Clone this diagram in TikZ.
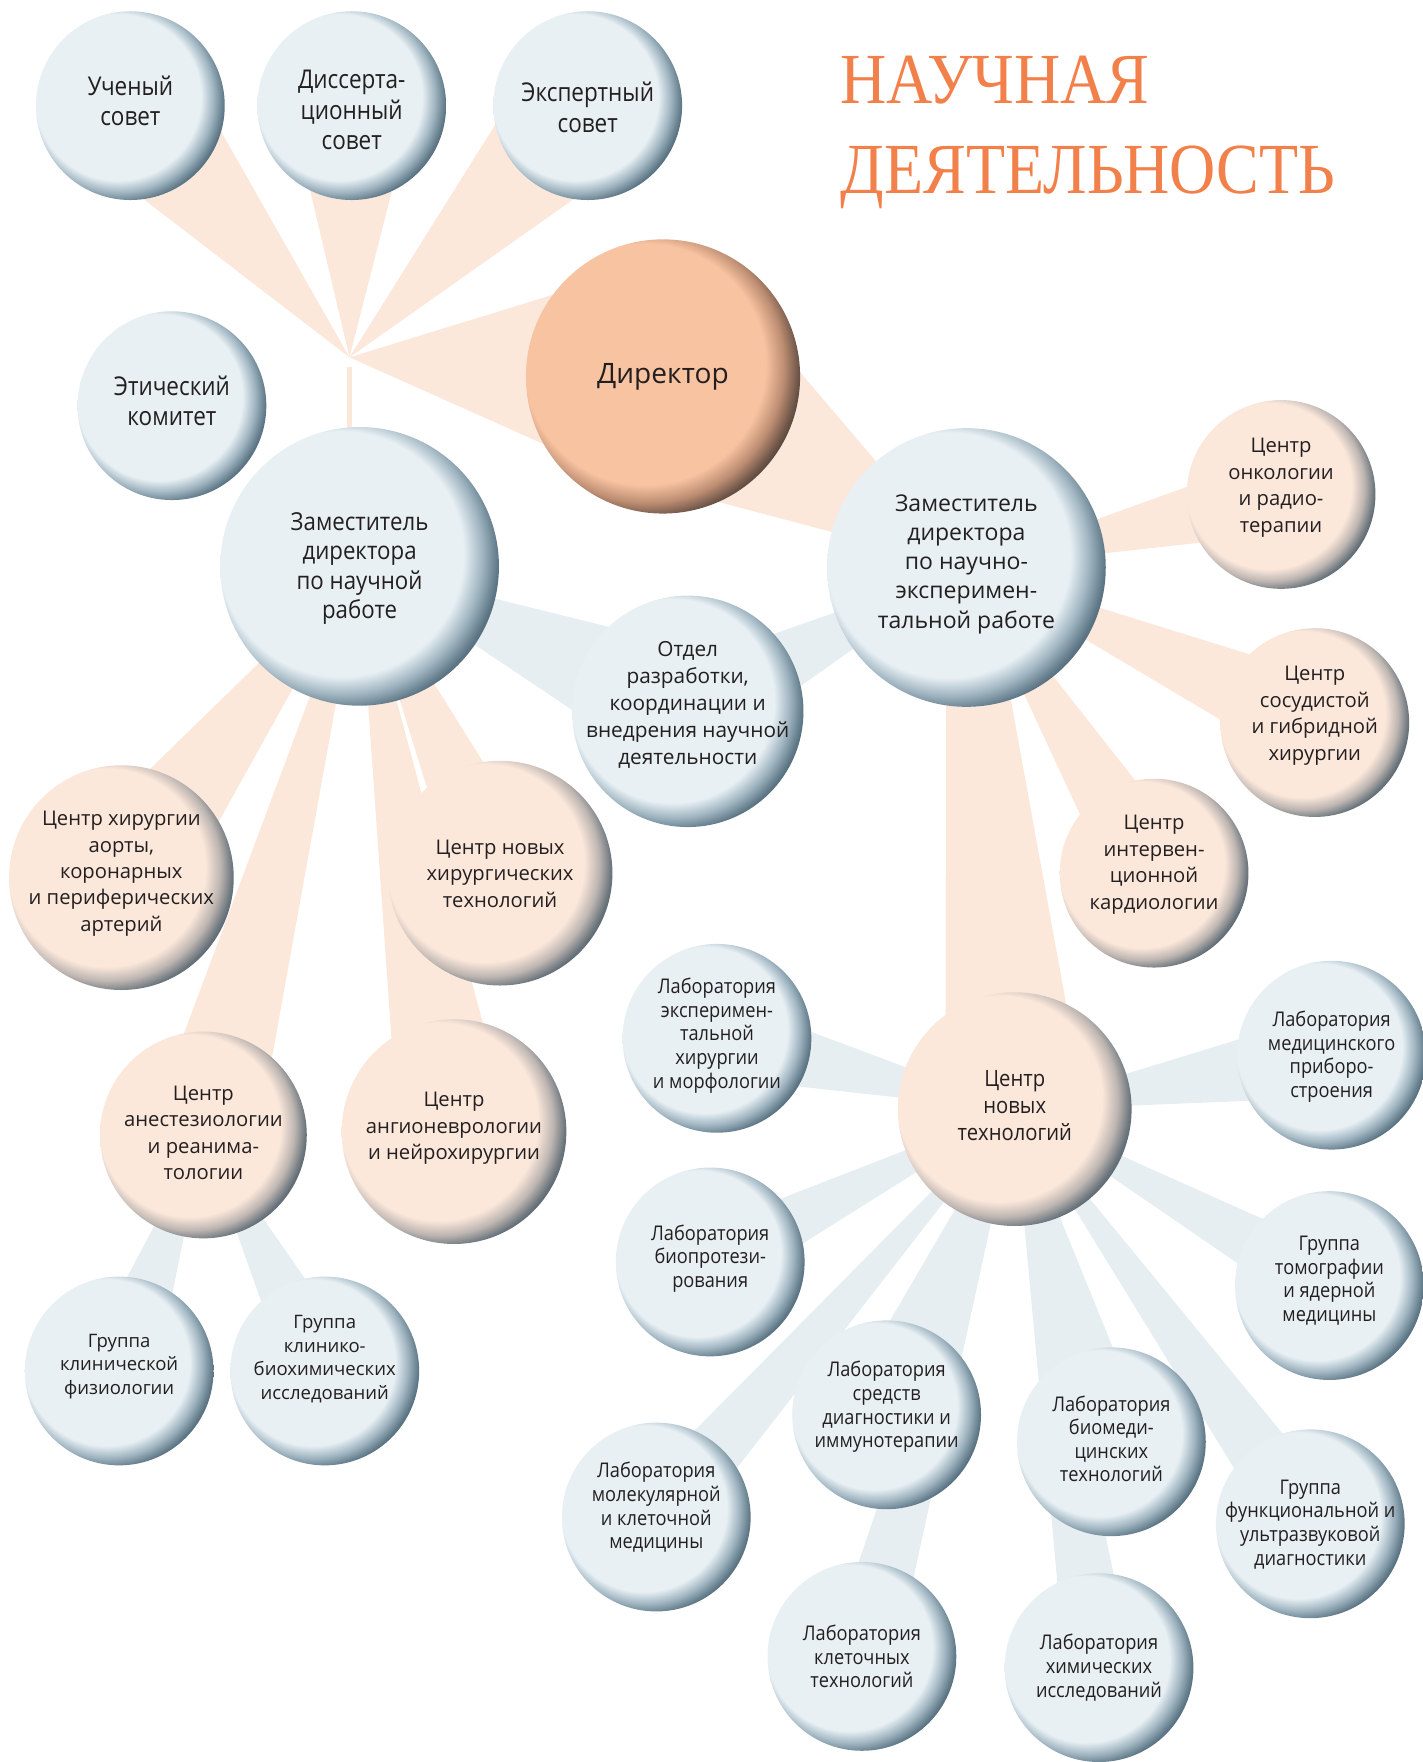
\documentclass[tikz,border=0pt]{standalone}
\usepackage{fontspec}
\setmainfont{Open Sans}
\newfontfamily\condA[FakeStretch=0.87]{Open Sans}
\newfontfamily\condB[FakeStretch=0.9]{Open Sans}
\newfontfamily\titlef[FakeStretch=0.89]{Liberation Serif}
\usetikzlibrary{calc}

\definecolor{txt}{RGB}{35,31,32}
\definecolor{bandP}{RGB}{252,232,219}
\definecolor{bandB}{RGB}{231,238,242}
\definecolor{bL}{RGB}{232,240,244}
\definecolor{bM}{RGB}{160,181,193}
\definecolor{bD}{RGB}{95,120,135}
\definecolor{bE}{RGB}{62,84,98}
\definecolor{pL}{RGB}{252,232,219}
\definecolor{pM}{RGB}{190,182,178}
\definecolor{pD}{RGB}{104,115,123}
\definecolor{pE}{RGB}{70,82,90}
\definecolor{dL}{RGB}{248,195,161}
\definecolor{dM}{RGB}{190,142,115}
\definecolor{dD}{RGB}{105,82,70}
\definecolor{dE}{RGB}{58,50,45}
\definecolor{titleC}{RGB}{242,128,74}

\pgfdeclareradialshading{shBlue}{\pgfpoint{-6bp}{4bp}}{color(0bp)=(bL); color(22bp)=(bL); color(25bp)=(bM); color(27.5bp)=(bD); color(29.5bp)=(bE); color(50bp)=(bE)}
\pgfdeclareradialshading{shPeach}{\pgfpoint{-6bp}{4bp}}{color(0bp)=(pL); color(22bp)=(pL); color(25bp)=(pM); color(27.5bp)=(pD); color(29.5bp)=(pE); color(50bp)=(pE)}
\pgfdeclareradialshading{shDir}{\pgfpoint{-6bp}{4bp}}{color(0bp)=(dL); color(22bp)=(dL); color(25bp)=(dM); color(27.5bp)=(dD); color(29.5bp)=(dE); color(50bp)=(dE)}

\pgfdeclarelayer{bg}
\pgfsetlayers{bg,main}

\tikzset{
  blueball/.style={circle, inner sep=0pt, outer sep=0pt, shade, shading=shBlue},
  peachball/.style={circle, inner sep=0pt, outer sep=0pt, shade, shading=shPeach},
  dirball/.style={circle, inner sep=0pt, outer sep=0pt, shade, shading=shDir},
  tbase/.style={align=center, text=txt, inner sep=0pt},
  ttop/.style={tbase, font=\condA\fontsize{23}{27}\selectfont},
  tdir/.style={tbase, font=\fontsize{25}{30}\selectfont},
  tzl/.style={tbase, font=\condB\fontsize{22}{26}\selectfont},
  tzr/.style={tbase, font=\fontsize{20.5}{26}\selectfont},
  tcen/.style={tbase, font=\fontsize{18}{23.5}\selectfont},
  totd/.style={tbase, font=\fontsize{18.5}{24}\selectfont},
  tcnt/.style={tbase, font=\condB\fontsize{20}{24}\selectfont},
  tlab/.style={tbase, font=\condB\fontsize{18}{21}\selectfont},
  tgrp/.style={tbase, font=\fontsize{16.5}{21}\selectfont},
  ttitle/.style={anchor=base west, inner sep=0pt, text=titleC, font=\titlef\fontsize{64}{64}\selectfont},
}

% name, x, y, diameter, ball style, text style, text y, text
\newcommand\mkball[8]{%
  \node[#5, minimum size=#4pt] (#1) at (#2,#3) {};
  \node[#6] (#1-t) at (#2,#7) {#8};}
% colour, node A, half width at A, node B, half width at B
\newcommand\band[5]{%
  \fill[#1] ($(#2.center)!#3!90:(#4.center)$) -- ($(#4.center)!#5!-90:(#2.center)$)
    -- ($(#4.center)!#5!90:(#2.center)$) -- ($(#2.center)!#3!-90:(#4.center)$) -- cycle;}

\begin{document}
\begin{tikzpicture}[x=1pt,y=-1pt]
\useasboundingbox (0,0) rectangle (1266,1568);

\node[ttitle] (ttl1) at (748,92) {НАУЧНАЯ};
\node[ttitle] (ttl2) at (748,172) {ДЕЯТЕЛЬНОСТЬ};

\coordinate (hub) at (311,318);

\mkball{uch}{116}{94}{168}{blueball}{ttop}{89.5}{Ученый\\совет}
\mkball{diss}{313}{94}{168}{blueball}{ttop}{98}{Диссерта-\\ционный\\совет}
\mkball{exp}{523}{94}{168}{blueball}{ttop}{95.5}{Экспертный\\совет}
\mkball{eth}{153}{361}{168}{blueball}{ttop}{357}{Этический\\комитет}
\mkball{dir}{590}{335}{244}{dirball}{tdir}{335}{Директор}
\mkball{zamL}{320}{504}{248}{blueball}{tzl}{506}{Заместитель\\директора\\по научной\\работе}
\mkball{zamR}{860}{505}{248}{blueball}{tzr}{502}{Заместитель\\директора\\по научно-\\эксперимен-\\тальной работе}
\mkball{onko}{1140}{440}{168}{peachball}{tcen}{434}{Центр\\онкологии\\и радио-\\терапии}
\mkball{otd}{612}{633}{206}{blueball}{totd}{627.5}{Отдел\\разработки,\\координации и\\внедрения научной\\деятельности}
\mkball{sos}{1170}{643}{168}{peachball}{tcen}{637}{Центр\\сосудистой\\и гибридной\\хирургии}
\mkball{intv}{1027}{777}{168}{peachball}{tcen}{769.5}{Центр\\интервен-\\ционной\\кардиологии}
\mkball{aor}{108}{781}{200}{peachball}{tcen}{777.5}{Центр хирургии\\аорты,\\коронарных\\и периферических\\артерий}
\mkball{cnht}{445}{777}{200}{peachball}{tcen}{777.5}{Центр новых\\хирургических\\технологий}
\mkball{ane}{181}{1010}{184}{peachball}{tcen}{1008}{Центр\\анестезиологии\\и реанима-\\тологии}
\mkball{ang}{404}{1007}{200}{peachball}{tcen}{1004}{Центр\\ангионеврологии\\и нейрохирургии}
\mkball{cnt}{903}{987}{208}{peachball}{tcnt}{984}{Центр\\новых\\технологий}
\mkball{lexp}{638}{924}{168}{blueball}{tlab}{921.5}{Лаборатория\\эксперимен-\\тальной\\хирургии\\и морфологии}
\mkball{lpri}{1185}{939}{168}{blueball}{tlab}{940.5}{Лаборатория\\медицинского\\приборо-\\строения}
\mkball{lbio}{632}{1123}{168}{blueball}{tlab}{1120}{Лаборатория\\биопротези-\\рования}
\mkball{gtom}{1183}{1144}{168}{blueball}{tlab}{1139.5}{Группа\\томографии\\и ядерной\\медицины}
\mkball{lsre}{789}{1259}{168}{blueball}{tlab}{1252}{Лаборатория\\средств\\диагностики и\\иммунотерапии}
\mkball{lbmt}{989}{1283}{168}{blueball}{tlab}{1280.5}{Лаборатория\\биомеди-\\цинских\\технологий}
\mkball{gfun}{1166}{1356}{168}{blueball}{tlab}{1356.5}{Группа\\функциональной и\\ультразвуковой\\диагностики}
\mkball{lmol}{584}{1350}{168}{blueball}{tlab}{1341.5}{Лаборатория\\молекулярной\\и клеточной\\медицины}
\mkball{lkl}{767}{1474}{168}{blueball}{tlab}{1474}{Лаборатория\\клеточных\\технологий}
\mkball{lhim}{978}{1484}{168}{blueball}{tlab}{1484}{Лаборатория\\химических\\исследований}
\mkball{gfiz}{106}{1220}{168}{blueball}{tgrp}{1216}{Группа\\клинической\\физиологии}
\mkball{gbio}{289}{1220}{168}{blueball}{tgrp}{1209.5}{Группа\\клинико-\\биохимических\\исследований}

\begin{pgfonlayer}{bg}
  % councils and director to the hub
  \band{bandP}{uch}{60pt}{hub}{0pt}
  \band{bandP}{diss}{55pt}{hub}{0pt}
  \band{bandP}{exp}{62pt}{hub}{0pt}
  \band{bandP}{dir}{105pt}{hub}{0pt}
  \fill[bandP] ($(hub)+(-2.5,9)$) rectangle ($(hub |- zamL.north)+(2.5,15)$);
  \band{bandP}{dir}{100pt}{zamR}{0pt}
  % deputy (left)
  \band{bandP}{zamL}{1pt}{aor}{52pt}
  \band{bandP}{zamL}{1pt}{ane}{48pt}
  \band{bandP}{zamL}{1pt}{ang}{50pt}
  \band{bandP}{zamL}{1pt}{cnht}{40pt}
  \band{bandB}{zamL}{1pt}{otd}{57pt}
  % deputy (right)
  \band{bandB}{zamR}{1pt}{otd}{40pt}
  \band{bandP}{zamR}{1pt}{onko}{35pt}
  \band{bandP}{zamR}{1pt}{sos}{41pt}
  \band{bandP}{zamR}{1pt}{intv}{38pt}
  \band{bandP}{zamR}{18pt}{cnt}{62pt}
  % centre of new technologies
  \band{bandB}{cnt}{1pt}{lexp}{35pt}
  \band{bandB}{cnt}{1pt}{lpri}{38pt}
  \band{bandB}{cnt}{1pt}{lbio}{30pt}
  \band{bandB}{cnt}{1pt}{gtom}{30pt}
  \band{bandB}{cnt}{1pt}{lsre}{40pt}
  \band{bandB}{cnt}{1pt}{lbmt}{33pt}
  \band{bandB}{cnt}{1pt}{gfun}{32pt}
  \band{bandB}{cnt}{1pt}{lmol}{30pt}
  \band{bandB}{cnt}{1pt}{lkl}{30pt}
  \band{bandB}{cnt}{1pt}{lhim}{30pt}
  % anaesthesiology
  \band{bandB}{ane}{1pt}{gfiz}{33pt}
  \band{bandB}{ane}{1pt}{gbio}{33pt}
\end{pgfonlayer}
\end{tikzpicture}
\end{document}
